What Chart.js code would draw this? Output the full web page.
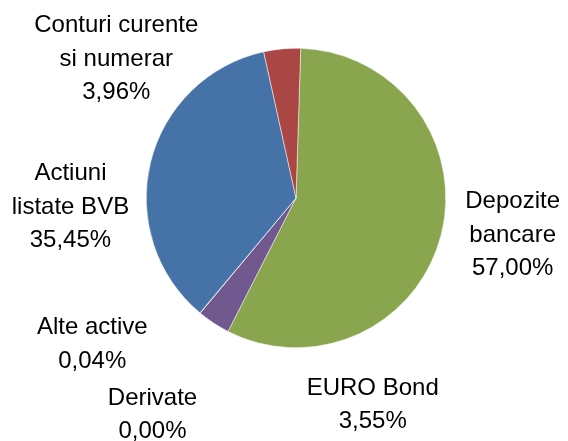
<!DOCTYPE html>
<html>
<head>
<meta charset="utf-8">
<script src="https://cdn.jsdelivr.net/npm/chart.js@4.4.1/dist/chart.umd.min.js"></script>
<style>
  html, body { margin: 0; padding: 0; background: #ffffff; }
  #wrap { width: 568px; height: 441px; position: relative; }
</style>
</head>
<body>
<div id="wrap"><canvas id="c" width="568" height="441"></canvas></div>
<script>
const categories = ["Depozite bancare", "EURO Bond", "Derivate", "Alte active", "Actiuni listate BVB", "Conturi curente si numerar"];
const labelLines = [["Depozite", "bancare"], ["EURO Bond"], ["Derivate"], ["Alte active"], ["Actiuni", "listate BVB"], ["Conturi curente", "si numerar"]];
const values = [57.00, 3.55, 0.00, 0.04, 35.45, 3.96];
const valueLabels = ["57,00%", "3,55%", "0,00%", "0,04%", "35,45%", "3,96%"];
const colors = ["#89A54E", "#71588F", "#4198AF", "#DB843D", "#4572A7", "#AA4643"];

// label placement: angle (deg clockwise from top) and distance in radii from pie centre
const labelPlace = [
  { angle: 99.3, dist: 1.466 },
  { angle: 159.5, dist: 1.463 },
  { angle: 213.7, dist: 1.727 },
  { angle: 234.7, dist: 1.667 },
  { angle: 268.1, dist: 1.507 },
  { angle: 308.1, dist: 1.525 }
];

const labelPlugin = {
  id: 'outLabels',
  afterDatasetsDraw(chart) {
    const ctx = chart.ctx;
    const meta = chart.getDatasetMeta(0);
    const arc0 = meta.data[0];
    const cx = arc0.x, cy = arc0.y, r = arc0.outerRadius;
    const fontSize = 24, lineH = 33.5;
    ctx.save();
    ctx.font = fontSize + 'px "Liberation Sans", Arial, sans-serif';
    ctx.fillStyle = '#000000';
    ctx.textAlign = 'center';
    ctx.textBaseline = 'alphabetic';
    meta.data.forEach((arc, i) => {
      const p = labelPlace[i];
      const a = p.angle * Math.PI / 180;
      const x = cx + Math.sin(a) * r * p.dist;
      const y = cy - Math.cos(a) * r * p.dist;
      const lines = labelLines[i].concat([valueLabels[i]]);
      const n = lines.length;
      const capH = 17;
      const total = capH + (n - 1) * lineH;
      let base = y - total / 2 + capH;
      lines.forEach((t, k) => {
        ctx.fillText(t, x, base + k * lineH);
      });
    });
    ctx.restore();
  }
};

new Chart(document.getElementById('c'), {
  type: 'pie',
  data: {
    labels: categories,
    datasets: [{
      data: values,
      backgroundColor: colors,
      borderColor: '#ffffff',
      borderWidth: 0.5
    }]
  },
  options: {
    responsive: false,
    animation: false,
    rotation: 1.8,
    layout: { padding: { top: 48, bottom: 93, left: 146, right: 122 } },
    plugins: {
      legend: { display: false },
      tooltip: { enabled: false }
    }
  },
  plugins: [labelPlugin]
});
</script>
</body>
</html>
